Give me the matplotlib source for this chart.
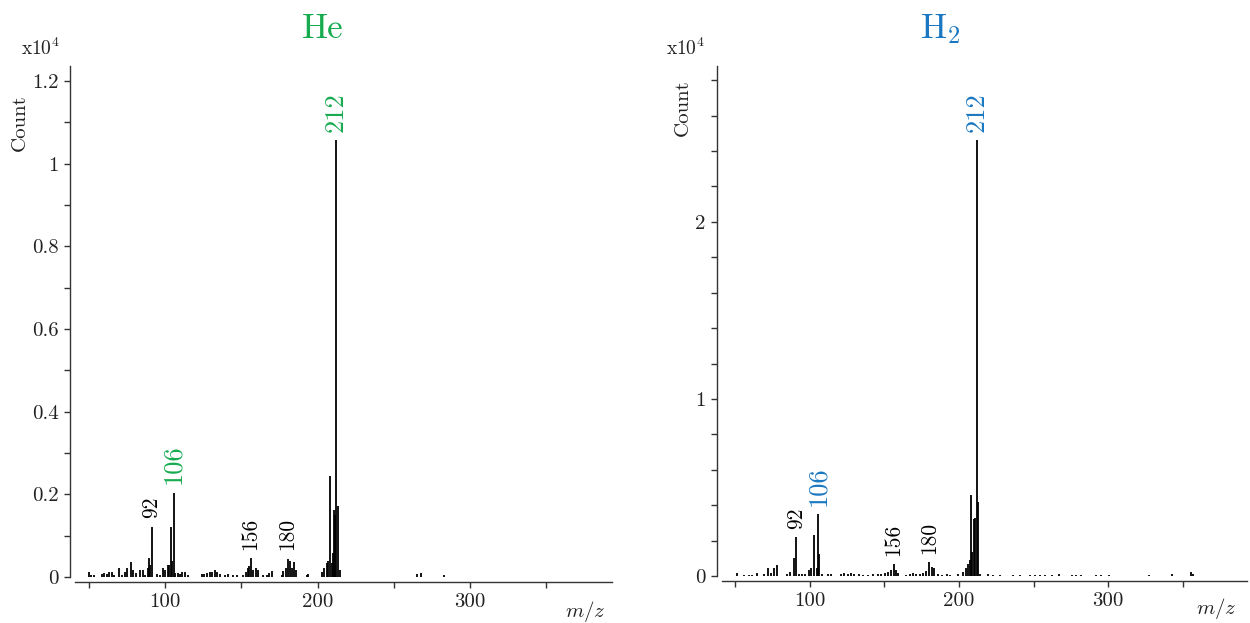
import numpy as np
import matplotlib
matplotlib.use('Agg')
import matplotlib.pyplot as plt
from matplotlib.ticker import MultipleLocator

plt.rcParams['font.family'] = ['cmr10', 'DejaVu Serif']
plt.rcParams['mathtext.fontset'] = 'cm'
plt.rcParams['axes.unicode_minus'] = False

# He spectrum (m/z, count x10^4)
he_mz = [50.4, 51.5, 53.3, 58.5, 60.3, 61.8, 63.5, 65.1, 66.6, 70.1, 72.1, 73.8, 75.3, 77.5,
         79.3, 80.8, 83.6, 85.4, 86.9, 88.6, 89.7, 90.4, 91.3, 94.5, 96.7, 98.9, 99.8, 101.7,
         102.6, 103.9, 104.8, 105.7, 106.6, 108.3, 109.8, 111.4, 113.1, 115.3, 124.0, 125.8,
         127.5, 129.5, 131.0, 132.8, 133.8, 136.0, 139.3, 141.5, 144.8, 146.9, 151.3, 152.8,
         154.1, 155.0, 156.1, 157.9, 159.4, 160.7, 164.4, 166.6, 168.1, 169.9, 176.4, 177.5,
         179.0, 180.3, 181.7, 183.0, 184.5, 185.8, 192.8, 193.9, 202.6, 203.9, 205.9, 207.0,
         208.1, 209.2, 209.8, 210.9, 211.6, 212.2, 213.1, 214.6, 265.0, 267.5, 283.0]
he_cnt = [0.012, 0.006, 0.006, 0.008, 0.009, 0.008, 0.012, 0.011, 0.006, 0.021, 0.006, 0.012,
          0.023, 0.036, 0.016, 0.009, 0.018, 0.017, 0.006, 0.023, 0.046, 0.028, 0.122, 0.008,
          0.006, 0.023, 0.018, 0.030, 0.030, 0.122, 0.038, 0.204, 0.009, 0.009, 0.008, 0.012,
          0.012, 0.006, 0.008, 0.008, 0.009, 0.012, 0.011, 0.016, 0.011, 0.008, 0.006, 0.008,
          0.006, 0.006, 0.006, 0.012, 0.023, 0.026, 0.046, 0.018, 0.021, 0.016, 0.005, 0.006,
          0.009, 0.014, 0.006, 0.014, 0.023, 0.044, 0.038, 0.023, 0.036, 0.016, 0.006, 0.008,
          0.012, 0.023, 0.033, 0.038, 0.244, 0.035, 0.058, 0.161, 0.150, 1.057, 0.173, 0.016,
          0.008, 0.010, 0.005]

# H2 spectrum (m/z, count x10^4)
h2_mz = [51.2, 55.7, 59.1, 61.3, 64.3, 69.2, 72.1, 74.2, 76.0, 78.2, 84.9, 86.7, 89.2, 91.0,
         92.8, 95.1, 96.6, 99.6, 101.1, 103.1, 104.7, 105.6, 106.5, 107.9, 111.9, 114.2, 120.9,
         123.1, 125.4, 127.6, 129.9, 133.3, 135.5, 138.9, 142.2, 145.6, 147.9, 150.1, 152.4,
         154.2, 156.2, 158.0, 159.1, 164.7, 167.0, 169.2, 171.5, 173.7, 176.0, 178.2, 180.0,
         181.6, 183.4, 185.6, 188.3, 191.7, 193.9, 199.6, 202.9, 204.7, 206.3, 207.2, 207.9,
         209.0, 209.9, 211.0, 212.1, 213.0, 214.4, 219.7, 223.1, 227.6, 236.5, 241.0, 247.8,
         251.1, 254.5, 257.9, 262.4, 266.9, 275.9, 278.1, 281.5, 291.6, 295.0, 300.6, 327.1,
         342.6, 355.6, 356.7]
h2_cnt = [0.017, 0.004, 0.004, 0.004, 0.017, 0.010, 0.043, 0.017, 0.043, 0.060, 0.013, 0.020,
          0.104, 0.220, 0.013, 0.010, 0.013, 0.032, 0.047, 0.230, 0.043, 0.349, 0.126, 0.013,
          0.010, 0.013, 0.010, 0.017, 0.013, 0.017, 0.010, 0.010, 0.004, 0.004, 0.010, 0.013,
          0.013, 0.017, 0.020, 0.032, 0.066, 0.032, 0.017, 0.004, 0.013, 0.017, 0.010, 0.013,
          0.017, 0.028, 0.079, 0.050, 0.047, 0.013, 0.004, 0.010, 0.004, 0.013, 0.020, 0.043,
          0.070, 0.090, 0.460, 0.135, 0.324, 0.330, 2.460, 0.418, 0.013, 0.012, 0.008, 0.006,
          0.006, 0.006, 0.005, 0.006, 0.006, 0.005, 0.008, 0.010, 0.006, 0.008, 0.006, 0.005,
          0.005, 0.005, 0.006, 0.010, 0.022, 0.012]

# labelled peaks
he_labels = [(91.3, 0.122, '92'), (105.7, 0.204, '106'), (156.1, 0.046, '156'),
             (180.3, 0.044, '180'), (212.2, 1.057, '212')]
h2_labels = [(91.0, 0.220, '92'), (105.6, 0.349, '106'), (156.2, 0.066, '156'),
             (180.0, 0.079, '180'), (212.1, 2.460, '212')]
colored = ['106', '212']

green = '#17ab50'
blue = '#1a78c2'
axcol = '#333333'

fig = plt.figure(figsize=(12.5, 6.23), dpi=100)
ax1 = fig.add_axes([0.06, 0.0738, 0.4296, 0.8202])
ax2 = fig.add_axes([0.5774, 0.0754, 0.4202, 0.8186])


def draw(ax, mz, cnt, labels, col, ytop, ymaj, ymin, title, xtitle, cnt_pos, exp_x):
    ax.vlines(mz, 0, cnt, color='black', lw=1.3)
    for x, y, t in labels:
        c = col if t in colored else 'black'
        fs = 19 if t in colored else 15.5
        ax.annotate(t, (x, y), xytext=(0, 6), textcoords='offset points', rotation=90,
                    ha='center', va='bottom', color=c, fontsize=fs)
    ax.set_xlim(41, 393)
    ax.set_ylim(0, ytop)
    for s in ['top', 'right']:
        ax.spines[s].set_visible(False)
    for s in ['left', 'bottom']:
        ax.spines[s].set_position(('outward', 3.5))
        ax.spines[s].set_color(axcol)
        ax.spines[s].set_linewidth(1.0)
    ax.xaxis.set_major_locator(MultipleLocator(100))
    ax.xaxis.set_minor_locator(MultipleLocator(50))
    ax.yaxis.set_major_locator(MultipleLocator(ymaj))
    ax.yaxis.set_minor_locator(MultipleLocator(ymin))
    ax.yaxis.set_major_formatter(plt.FuncFormatter(lambda v, p: '%g' % round(v, 3)))
    ax.tick_params(which='both', direction='out', length=4.5, width=1.0, color=axcol,
                   labelsize=15, labelcolor='#222222')
    fig.text(xtitle, 0.953, title, color=col, fontsize=25, ha='center', va='center')
    fig.text(cnt_pos[0], cnt_pos[1], 'Count', rotation=90, fontsize=15, ha='center',
             va='center', color='#222222')
    fig.text(exp_x, 0.922, r'x10$^{4}$', fontsize=14, ha='left', va='center', color='#222222')


draw(ax1, he_mz, he_cnt, he_labels, green, 1.236, 0.2, 0.1, 'He', 0.258, (0.016, 0.8026), 0.017)
draw(ax2, h2_mz, h2_cnt, h2_labels, blue, 2.88, 1, 0.2, r'H$_2$', 0.752, (0.5464, 0.8266), 0.533)

fig.text(0.468, 0.018, r'$m/z$', fontsize=15, ha='center', va='center', color='#222222')
fig.text(0.973, 0.023, r'$m/z$', fontsize=15, ha='center', va='center', color='#222222')

plt.savefig('out.png', dpi=100)
